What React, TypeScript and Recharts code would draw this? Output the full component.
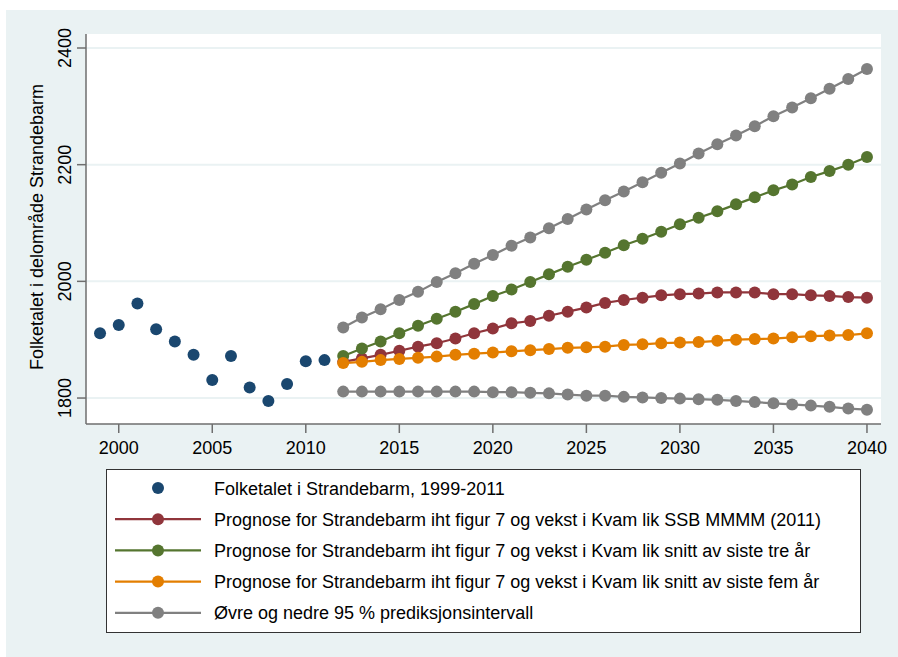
import React from "react";
import { LineChart, Line, XAxis, YAxis, CartesianGrid } from "recharts";

// observert folketal
const histYears = [1999, 2000, 2001, 2002, 2003, 2004, 2005, 2006, 2007, 2008, 2009, 2010, 2011];
const folketal = [1911, 1925, 1962, 1918, 1897, 1874, 1831, 1872, 1818, 1795, 1824, 1863, 1865];

// prognosar
const progYears = [
  2012, 2013, 2014, 2015, 2016, 2017, 2018, 2019, 2020, 2021, 2022, 2023, 2024, 2025, 2026,
  2027, 2028, 2029, 2030, 2031, 2032, 2033, 2034, 2035, 2036, 2037, 2038, 2039, 2040,
];
const ssbMmmm = [
  1862, 1868, 1874, 1881, 1888, 1894, 1902, 1911, 1919, 1928, 1932, 1941, 1948, 1955, 1963,
  1968, 1972, 1976, 1978, 1979, 1981, 1981, 1981, 1978, 1978, 1976, 1975, 1973, 1972,
];
const snittTre = [
  1872, 1885, 1897, 1911, 1924, 1936, 1948, 1961, 1975, 1986, 1999, 2012, 2025, 2037, 2049,
  2062, 2073, 2085, 2098, 2109, 2120, 2132, 2144, 2156, 2166, 2179, 2189, 2200, 2213,
];
const snittFem = [
  1860, 1862, 1865, 1867, 1869, 1871, 1874, 1876, 1878, 1880, 1882, 1884, 1886, 1887, 1888,
  1891, 1892, 1894, 1895, 1896, 1898, 1900, 1901, 1902, 1904, 1906, 1907, 1908, 1911,
];
const ovre = [
  1921, 1938, 1952, 1968, 1982, 1999, 2014, 2030, 2045, 2061, 2075, 2091, 2107, 2123, 2139,
  2154, 2170, 2186, 2202, 2219, 2235, 2250, 2266, 2283, 2298, 2314, 2330, 2347, 2364,
];
const nedre = [
  1811, 1811, 1811, 1811, 1811, 1811, 1811, 1811, 1810, 1810, 1809, 1808, 1806, 1804, 1804,
  1802, 1801, 1800, 1799, 1798, 1797, 1795, 1793, 1791, 1789, 1787, 1785, 1782, 1780,
];

const xTicks = [2000, 2005, 2010, 2015, 2020, 2025, 2030, 2035, 2040];
const yTicks = [1800, 2000, 2200, 2400];

const legendLabels = [
  "Folketalet i Strandebarm, 1999-2011",
  "Prognose for Strandebarm iht figur 7 og vekst i Kvam lik SSB MMMM (2011)",
  "Prognose for Strandebarm iht figur 7 og vekst i Kvam lik snitt av siste tre år",
  "Prognose for Strandebarm iht figur 7 og vekst i Kvam lik snitt av siste fem år",
  "Øvre og nedre 95 % prediksjonsintervall",
];

const NAVY = "#1A476F";
const MAROON = "#90353B";
const GREEN = "#55752F";
const ORANGE = "#E37E00";
const GRAY = "#808080";
const BG = "#EAF2F3";
const AXIS = "#6E6E6E";
const FONT = "Arial, 'Liberation Sans', sans-serif";

const rows: Record<string, number | undefined>[] = [];
histYears.forEach((y, i) => rows.push({ year: y, folketal: folketal[i] }));
progYears.forEach((y, i) =>
  rows.push({
    year: y,
    ssb: ssbMmmm[i],
    tre: snittTre[i],
    fem: snittFem[i],
    ovre: ovre[i],
    nedre: nedre[i],
  })
);

function YTick(props: any) {
  const { x, y, payload } = props;
  const tx = x - 3.5;
  return (
    <text
      x={tx}
      y={y}
      transform={`rotate(-90, ${tx}, ${y})`}
      textAnchor="middle"
      fontSize={18}
      fontFamily={FONT}
      fill="#000"
    >
      {payload.value}
    </text>
  );
}

function XTick(props: any) {
  const { x, y, payload } = props;
  return (
    <text x={x} y={y + 19} textAnchor="middle" fontSize={18} fontFamily={FONT} fill="#000">
      {payload.value}
    </text>
  );
}

const series = [
  { key: "ssb", color: MAROON },
  { key: "tre", color: GREEN },
  { key: "fem", color: ORANGE },
  { key: "ovre", color: GRAY },
  { key: "nedre", color: GRAY },
];

const legendColors = [NAVY, MAROON, GREEN, ORANGE, GRAY];

function LegendBox() {
  return (
    <div
      style={{
        position: "absolute",
        left: 106,
        top: 469,
        width: 755,
        height: 164,
        boxSizing: "border-box",
        border: "1px solid #333",
        background: "#fff",
      }}
    >
      <svg width={753} height={162} style={{ display: "block" }}>
        {legendLabels.map((label, i) => {
          const cy = 18 + i * 31.2;
          return (
            <g key={label}>
              {i > 0 && (
                <line x1={8} x2={94} y1={cy} y2={cy} stroke={legendColors[i]} strokeWidth={2.2} />
              )}
              <circle cx={51} cy={cy} r={6} fill={legendColors[i]} />
              <text
                x={107}
                y={cy + 6.5}
                fontSize={18}
                fontFamily={FONT}
                fill="#000"
              >
                {label}
              </text>
            </g>
          );
        })}
      </svg>
    </div>
  );
}

export default function App() {
  return (
    <div
      style={{
        position: "absolute",
        left: 0,
        top: 0,
        width: 898,
        height: 657,
        background: "#fff",
        overflow: "hidden",
      }}
    >
      <div
        style={{ position: "absolute", left: 6, top: 10, width: 892, height: 647, background: BG }}
      />
      <div style={{ position: "absolute", left: 0, top: 0 }}>
        <LineChart
          width={898}
          height={657}
          data={rows}
          margin={{ top: 34, right: 17, bottom: 193, left: 26 }}
        >
          <CartesianGrid
            vertical={false}
            horizontalValues={yTicks}
            stroke={BG}
            strokeWidth={2}
            fill="#fff"
          />
          <XAxis
            dataKey="year"
            type="number"
            domain={[1998.25, 2040.75]}
            ticks={xTicks}
            allowDataOverflow
            height={40}
            tickSize={9}
            tick={<XTick />}
            axisLine={{ stroke: AXIS, strokeWidth: 1.5 }}
            tickLine={{ stroke: AXIS, strokeWidth: 1.5 }}
          />
          <YAxis
            type="number"
            domain={[1755.5, 2424]}
            ticks={yTicks}
            allowDataOverflow
            width={60}
            tickSize={9}
            tick={<YTick />}
            axisLine={{ stroke: AXIS, strokeWidth: 1.5 }}
            tickLine={{ stroke: AXIS, strokeWidth: 1.5 }}
          />
          <Line
            dataKey="folketal"
            stroke="transparent"
            strokeWidth={0}
            dot={{ r: 6, fill: NAVY, stroke: "none", strokeWidth: 0 }}
            activeDot={false}
            isAnimationActive={false}
          />
          {series.map((s) => (
            <Line
              key={s.key}
              dataKey={s.key}
              type="linear"
              stroke={s.color}
              strokeWidth={2.2}
              dot={{ r: 6, fill: s.color, stroke: "none", strokeWidth: 0 }}
              activeDot={false}
              isAnimationActive={false}
            />
          ))}
        </LineChart>
      </div>
      <svg
        width={898}
        height={657}
        style={{ position: "absolute", left: 0, top: 0, pointerEvents: "none" }}
      >
        <text
          x={42.5}
          y={227}
          transform="rotate(-90, 42.5, 227)"
          textAnchor="middle"
          fontSize={18}
          fontFamily={FONT}
          fill="#000"
        >
          Folketalet i delområde Strandebarm
        </text>
      </svg>
      <LegendBox />
    </div>
  );
}
